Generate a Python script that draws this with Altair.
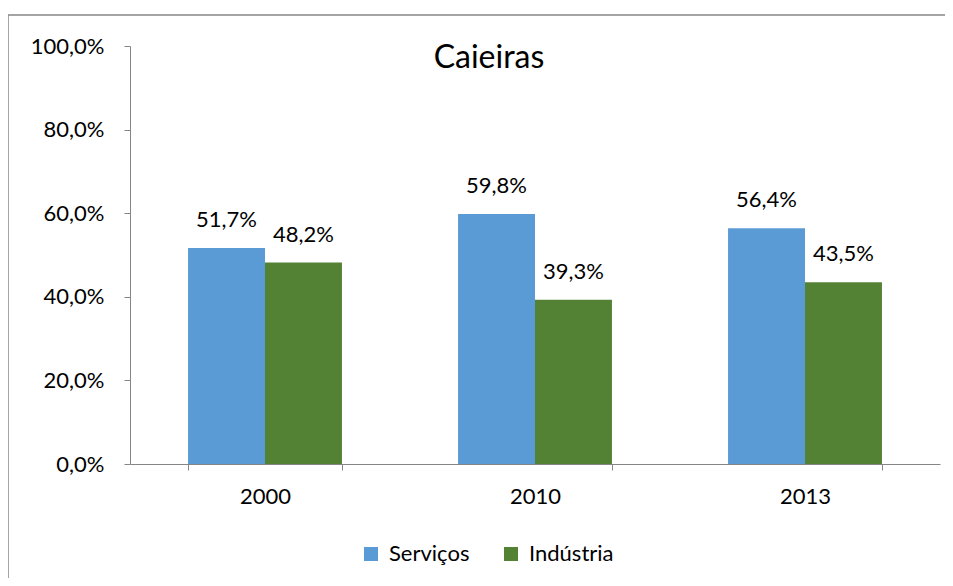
import altair as alt
import pandas as pd

years = ["2000", "2010", "2013"]
servicos = [0.517, 0.598, 0.564]
industria = [0.482, 0.393, 0.435]
series = ["Serviços", "Indústria"]
colors = ["#5B9BD5", "#548235"]

rows = []
for i, y in enumerate(years):
    rows.append({"ano": y, "setor": series[0], "valor": servicos[i]})
    rows.append({"ano": y, "setor": series[1], "valor": industria[i]})
df = pd.DataFrame(rows)

FONT = "Lato"
GRAY = "#868686"
FS = 22

x = alt.X("ano:N", sort=years, title=None,
          scale=alt.Scale(paddingInner=0.43, paddingOuter=0.215),
          axis=alt.Axis(labelAngle=0, labelFontSize=FS, labelFont=FONT, labelColor="#000",
                        domainColor=GRAY, tickColor=GRAY, tickSize=6, tickBand="extent",
                        labelPadding=16))
xo = alt.XOffset("setor:N", sort=series, scale=alt.Scale(paddingInner=0, paddingOuter=0))

base = alt.Chart(df)

bars = base.mark_bar().encode(
    x=x, xOffset=xo,
    y=alt.Y("valor:Q", title=None,
            scale=alt.Scale(domain=[0, 1]),
            axis=alt.Axis(values=[0, 0.2, 0.4, 0.6, 0.8, 1.0], grid=False,
                          labelExpr="replace(format(datum.value, '.1%'), '.', ',')",
                          labelFontSize=FS, labelFont=FONT, labelColor="#000",
                          domainColor=GRAY, tickColor=GRAY, tickSize=6, labelPadding=20)),
    color=alt.Color("setor:N", sort=series,
                    scale=alt.Scale(domain=series, range=colors),
                    legend=alt.Legend(title=None, orient="none", direction="horizontal",
                                      legendX=230, legendY=497, symbolType="square",
                                      symbolSize=196, symbolStrokeWidth=0, labelFontSize=FS,
                                      labelFont=FONT, labelColor="#000", columnPadding=30,
                                      labelOffset=7)),
)

labels = base.transform_calculate(
    lbl="replace(format(datum.valor, '.1%'), '.', ',')"
).mark_text(fontSize=FS, font=FONT, color="#000", baseline="middle", dy=-28).encode(
    x=x, xOffset=xo, y=alt.Y("valor:Q"), text="lbl:N"
)

frame = alt.Chart(alt.Data(values=[{}])).mark_rect(
    fill=None, stroke=GRAY, strokeWidth=1.5, clip=False
).encode(x=alt.value(-122), x2=alt.value(2000), y=alt.value(-31), y2=alt.value(2000))

chart = alt.layer(frame, bars, labels).properties(
    width=810, height=418,
    title=alt.TitleParams("Caieiras", fontSize=32, font=FONT, fontWeight="normal",
                          color="#000", anchor="middle", dx=-46, dy=80, baseline="middle"),
    autosize=alt.AutoSizeParams(type="none"),
    padding={"left": 122, "top": 38, "right": 5, "bottom": 114},
).configure_view(stroke=None)

chart.save("out.html", embed_options={"renderer": "svg", "actions": False})
